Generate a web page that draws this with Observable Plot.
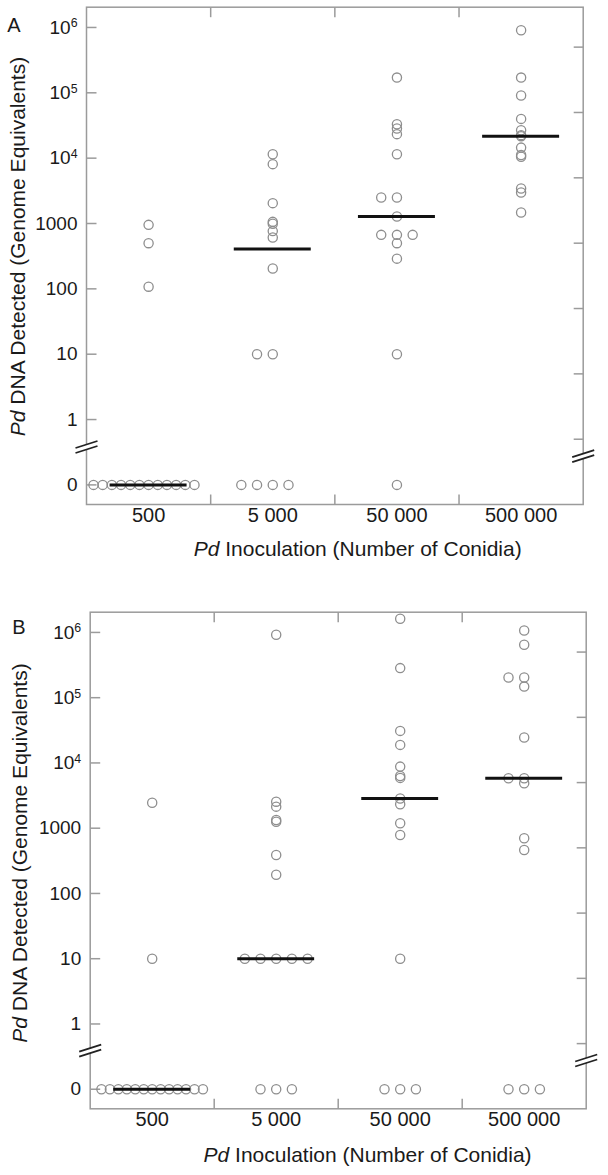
<!DOCTYPE html>
<html>
<head>
<meta charset="utf-8">
<script src="https://cdn.jsdelivr.net/npm/d3@7"></script>
<script src="https://cdn.jsdelivr.net/npm/@observablehq/plot@0.6"></script>
<style>
  body { margin: 0; background: #fff; }
  #chart { width: 608px; }
  svg { display: block; }
</style>
</head>
<body>
<div id="chart"></div>
<script>
// ---------- data ----------
const categories = ["500", "5 000", "50 000", "500 000"];

// Panel A : Pd DNA detected (genome equivalents) per inoculation dose
const panelA_500    = [953, 500, 108, 0, 0, 0, 0, 0, 0, 0, 0, 0, 0, 0, 0];
const panelA_5000   = [11500, 8100, 2050, 1060, 990, 765, 610, 205, 10, 10, 0, 0, 0, 0];
const panelA_50000  = [171000, 33100, 28400, 23300, 11500, 2500, 2500, 1277, 670, 670, 670, 500, 290, 10, 0];
const panelA_500000 = [908000, 171000, 90800, 39900, 26800, 22500, 21700, 14500, 11200, 10500, 3430, 2980, 1470];

// Panel B
const panelB_500    = [2460, 10, 0, 0, 0, 0, 0, 0, 0, 0, 0, 0, 0, 0, 0];
const panelB_5000   = [921000, 2550, 2140, 1335, 1258, 388, 193, 10, 10, 10, 10, 10, 0, 0, 0];
const panelB_50000  = [1622000, 284000, 31000, 18900, 8790, 6320, 5900, 2850, 2330, 1189, 787, 10, 0, 0, 0];
const panelB_500000 = [1072000, 647000, 204000, 204000, 148000, 24500, 5830, 5830, 4890, 700, 463, 0, 0, 0];

// axis ticks
const yTickValues  = [0, 1, 10, 100, 1000, 1e4, 1e5, 1e6];
const yTickLabels  = ["0", "1", "10", "100", "1000", "10^4", "10^5", "10^6"];
const rightTickValues = [0.5, 5, 50, 500, 5000, 5e4, 5e5];

const yTitle = ["Pd", " DNA Detected (Genome Equivalents)"];
const xTitle = ["Pd", " Inoculation (Number of Conidia)"];

// ---------- helpers ----------
const FONT = "'Liberation Sans', Arial, Helvetica, sans-serif";
const FRAME = "#9b9b9b";
const DOT = "#8e8e8e";
const ZERO_L = -1;                       // where the "0" row sits on the broken log axis
const toL = v => v === 0 ? ZERO_L : Math.log10(v);
const Y_DOMAIN = [-1.30, 6.31];

function buildRows(groups) {
  const rows = [];
  groups.forEach((vals, ci) => {
    const counts = d3.rollup(vals, v => v.length, d => d);
    const seen = new Map();
    vals.forEach(v => {
      const n = counts.get(v);
      const k = seen.get(v) || 0;
      seen.set(v, k + 1);
      const slot = k - Math.floor(n / 2);
      const step = Math.min(15.7, 110 / n) / 124;   // spread of tied values
      rows.push({cat: ci, value: v, x: ci + slot * step, y: toL(v)});
    });
  });
  return rows;
}

const sym = f => ({draw(ctx) { f(ctx); }});
const tickRight = sym(c => { c.moveTo(0, 0); c.lineTo(10, 0); });
const tickLeft  = sym(c => { c.moveTo(0, 0); c.lineTo(-9.5, 0); });
const tickDown  = sym(c => { c.moveTo(0, 0); c.lineTo(0, 10); });
const tickUp    = sym(c => { c.moveTo(0, 0); c.lineTo(0, -10); });
const breakFill = sym(c => { c.moveTo(-11, 1); c.lineTo(11, -6); c.lineTo(11, -1); c.lineTo(-11, 6); c.closePath(); });
const breakLine = sym(c => { c.moveTo(-11, 1); c.lineTo(11, -6); c.moveTo(-11, 6); c.lineTo(11, -1); });

function panel(groups, cfg) {
  const rows = buildRows(groups);
  const medians = groups.map((vals, ci) => ({cat: ci, y: toL(d3.median(vals))}));
  const dividers = categories.slice(1).map((_, i) => i + 0.5);
  const svg = Plot.plot({
    width: 608,
    height: cfg.height,
    marginTop: cfg.mt, marginBottom: cfg.mb, marginLeft: cfg.ml, marginRight: cfg.mr,
    x: {domain: [-0.5, 3.5], axis: null},
    y: {domain: Y_DOMAIN, axis: null},
    style: {fontFamily: FONT, background: "white", overflow: "visible"},
    marks: [
      Plot.frame({stroke: FRAME, strokeWidth: 1.5}),
      Plot.dot(yTickValues, {y: toL, frameAnchor: "left", symbol: tickRight, stroke: FRAME, strokeWidth: 1.5, fill: "none"}),
      Plot.dot(rightTickValues, {y: toL, frameAnchor: "right", symbol: tickLeft, stroke: FRAME, strokeWidth: 1.5, fill: "none"}),
      Plot.dot(dividers, {x: d => d, frameAnchor: "top", symbol: tickDown, stroke: FRAME, strokeWidth: 1.5, fill: "none"}),
      Plot.dot(dividers, {x: d => d, frameAnchor: "bottom", symbol: tickUp, stroke: FRAME, strokeWidth: 1.5, fill: "none"}),
      Plot.dot([cfg.breakLeft], {y: d => d, frameAnchor: "left", symbol: breakFill, fill: "white", stroke: "none"}),
      Plot.dot([cfg.breakLeft], {y: d => d, frameAnchor: "left", symbol: breakLine, fill: "none", stroke: "#222", strokeWidth: 1.8}),
      Plot.dot([cfg.breakRight], {y: d => d, frameAnchor: "right", symbol: breakFill, fill: "white", stroke: "none"}),
      Plot.dot([cfg.breakRight], {y: d => d, frameAnchor: "right", symbol: breakLine, fill: "none", stroke: "#222", strokeWidth: 1.8}),
      Plot.dot(rows, {x: "x", y: "y", r: 4.6, stroke: DOT, strokeWidth: 1.3, fill: "none"}),
      Plot.ruleY(medians, {y: "y", x1: d => d.cat - 0.31, x2: d => d.cat + 0.31, stroke: "#111", strokeWidth: 3}),
      Plot.text(yTickValues, {y: toL, text: (d, i) => yTickLabels[i], frameAnchor: "left", dx: -9, textAnchor: "end", fontSize: 19, fill: "#1a1a1a"}),
      Plot.text(categories, {x: (d, i) => i, text: d => d, frameAnchor: "bottom", dy: 17, fontSize: 20, fill: "#1a1a1a"})
    ]
  });

  // superscript exponents
  svg.querySelectorAll("text").forEach(t => {
    const m = t.textContent.match(/^10\^(\d)$/);
    if (m) {
      t.textContent = "";
      const ns = "http://www.w3.org/2000/svg";
      const a = document.createElementNS(ns, "tspan"); a.textContent = "10";
      const b = document.createElementNS(ns, "tspan"); b.textContent = m[1];
      b.setAttribute("dy", "-0.5em"); b.setAttribute("font-size", "0.65em");
      t.appendChild(a); t.appendChild(b);
    }
  });

  const s = d3.select(svg);
  const g = s.append("g").attr("font-family", FONT).attr("fill", "#1a1a1a");
  g.append("text").attr("x", cfg.letter[0]).attr("y", cfg.letter[1]).attr("dy", "0.35em")
    .attr("text-anchor", "middle").attr("font-size", 20).text(cfg.letterText);
  const yt = g.append("text")
    .attr("transform", `translate(${cfg.yTitle[0]},${cfg.yTitle[1]}) rotate(-90)`)
    .attr("dy", "0.35em").attr("text-anchor", "middle").attr("font-size", 21);
  yt.append("tspan").attr("font-style", "italic").text(yTitle[0]);
  yt.append("tspan").text(yTitle[1]);
  const xt = g.append("text").attr("x", cfg.xTitle[0]).attr("y", cfg.xTitle[1]).attr("dy", "0.35em")
    .attr("text-anchor", "middle").attr("font-size", 21);
  xt.append("tspan").attr("font-style", "italic").text(xTitle[0]);
  xt.append("tspan").text(xTitle[1]);
  return svg;
}

const chart = document.getElementById("chart");
chart.appendChild(panel([panelA_500, panelA_5000, panelA_50000, panelA_500000], {
  height: 580, mt: 6.7, mb: 76, ml: 86, mr: 25.3,
  breakLeft: -0.42, breakRight: -0.56,
  letter: [14, 25], letterText: "A",
  yTitle: [18, 246.5], xTitle: [357.7, 548.3]
}));
chart.appendChild(panel([panelB_500, panelB_5000, panelB_50000, panelB_500000], {
  height: 595, mt: 31.7, mb: 66.7, ml: 89.7, mr: 22.3,
  breakLeft: -0.41, breakRight: -0.56,
  letter: [19, 46.7], letterText: "B",
  yTitle: [19.5, 273], xTitle: [367.6, 575]
}));
</script>
</body>
</html>
